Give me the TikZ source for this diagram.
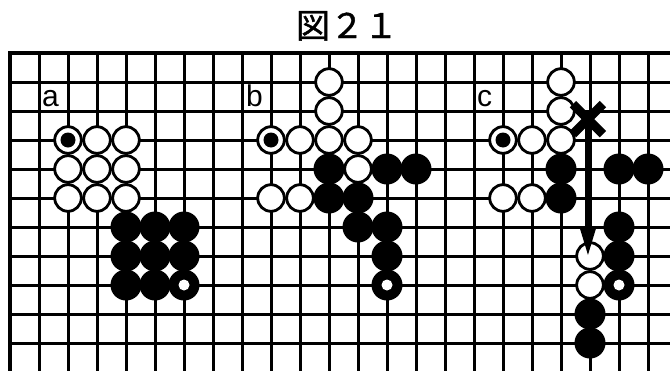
\documentclass[tikz,border=0pt]{standalone}
\usepackage{fontspec}
\newfontfamily\jpfont[FakeBold=1.2]{Noto Sans CJK JP}
\newfontfamily\labfont{Liberation Sans}
\usetikzlibrary{arrows.meta}
\tikzset{
  gridline/.style={line width=3pt, black},
  border/.style={line width=4.2pt, black, line join=miter},
  wst/.style={circle, draw=black, fill=white, line width=2.8pt, minimum size=26.6pt, inner sep=0pt},
  bst/.style={circle, fill=black, minimum size=31pt, inner sep=0pt},
  wmark/.style={wst, path picture={\fill[black] (path picture bounding box.center) circle (7.5pt);}},
  bmark/.style={bst, path picture={\fill[white] (path picture bounding box.center) circle (5.5pt);}},
  lab/.style={font=\labfont\fontsize{30}{30}\selectfont, anchor=base west, inner sep=0pt},
  xstroke/.style={line width=9pt, black},
  arr/.style={line width=5pt, black, -{Triangle[length=30pt 0 0, width=16pt 0 0]}},
}
\begin{document}
\begin{tikzpicture}[x=29pt, y=-29pt]
\useasboundingbox[fill=white] (-10pt,53pt) rectangle (660pt,-317pt);
% grid
\foreach \i in {1,...,22} \draw[gridline] (\i,0) -- (\i,10.95);
\foreach \k in {1,...,10} \draw[gridline] (0,\k) -- (22.8,\k);
\draw[border] (22.8,0) -- (0,0) -- (0,10.95);
% title
\node[font=\jpfont\fontsize{34}{34}\selectfont, anchor=base, inner sep=0pt] (title) at (337pt,15pt) {図２１};
% labels
\node[lab] (la) at ([xshift=3pt,yshift=5pt]1,2) {a};
\node[lab] (lb) at ([xshift=4pt,yshift=5pt]8,2) {b};
\node[lab] (lc) at ([xshift=3pt,yshift=5pt]16,2) {c};
% black stones
\foreach \i/\j in {4/6,5/6,6/6,4/7,5/7,4/8,5/8,6/7,
                   11/4,13/4,14/4,11/5,12/5,12/6,13/6,13/7,
                   19/4,21/4,22/4,19/5,21/6,21/7,20/9,20/10}
  \node[bst] (b\i-\j) at (\i,\j) {};
\foreach \i/\j in {6/8,13/8,21/8}
  \node[bmark] (b\i-\j) at (\i,\j) {};
% white stones
\foreach \i/\j in {3/3,4/3,2/4,3/4,4/4,2/5,3/5,4/5,
                   11/1,11/2,10/3,11/3,12/3,12/4,9/5,10/5,
                   19/1,19/2,18/3,19/3,17/5,18/5,20/7,20/8}
  \node[wst] (w\i-\j) at (\i,\j) {};
\foreach \i/\j in {2/3,9/3,17/3}
  \node[wmark] (w\i-\j) at (\i,\j) {};
% X mark and arrow
\coordinate (xm) at (19.93,2.28);
\draw[arr] (xm) -- (xm |- w20-7.center);
\draw[xstroke] ([shift={(-15pt,15pt)}]xm) -- ([shift={(15pt,-15pt)}]xm);
\draw[xstroke] ([shift={(15pt,15pt)}]xm) -- ([shift={(-15pt,-15pt)}]xm);
\end{tikzpicture}
\end{document}
